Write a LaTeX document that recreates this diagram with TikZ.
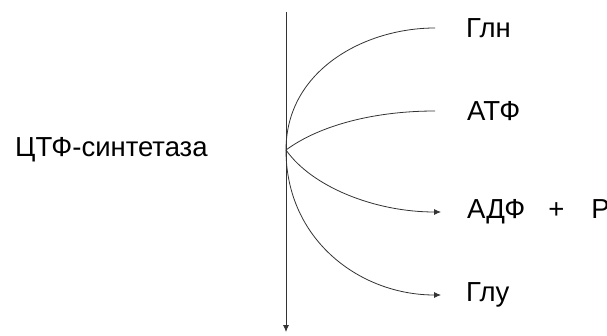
\documentclass[tikz,border=0pt]{standalone}
\usepackage{fontspec}
\setmainfont{Liberation Sans}
\usetikzlibrary{arrows.meta}
\begin{document}
\begin{tikzpicture}[x=1pt,y=1pt,
  lbl/.style={anchor=west,inner sep=0pt,font=\fontsize{27.5}{32}\selectfont},
  ln/.style={line width=0.8pt,black!80},
  arr/.style={ln,-{Latex[length=7pt,width=6pt]}}]
\useasboundingbox (0,0) rectangle (607,335);
% vertical axis
\coordinate (top) at (286,323);
\coordinate (bot) at (286,3);
\coordinate (br) at (286,185);
\draw[arr] (top) -- (bot);
% enzyme label
\node[lbl] (enz) at (15,185) {ЦТФ-синтетаза};
% substrates/products
\node[lbl] (gln) at (466,307) {Глн};
\node[lbl] (atf) at (467,224) {АТФ};
\node[lbl] (adf) at (467,123) {АДФ\hspace{23pt}+\hspace{27pt}Р\textsubscript{i}};
\node[lbl] (glu) at (466,40) {Глу};
\coordinate (glnE) at (435,307);
\coordinate (atfE) at (435,224);
\coordinate (adfE) at (441,123);
\coordinate (gluE) at (441,40);
\draw[ln] (br) .. controls (286,265) and (365,307) .. (glnE);
\draw[ln] (br) .. controls (320,210) and (375,224) .. (atfE);
\draw[arr] (br) .. controls (312,148) and (375,123) .. (adfE);
\draw[arr] (br) .. controls (286,95) and (360,40) .. (gluE);
\end{tikzpicture}
\end{document}
